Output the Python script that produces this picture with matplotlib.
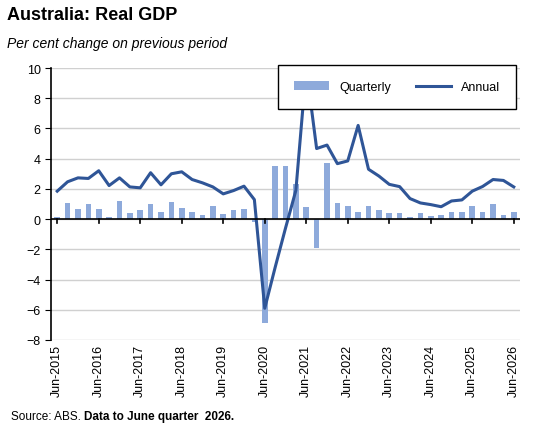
import matplotlib
matplotlib.use('Agg')
import matplotlib.pyplot as plt
import numpy as np

plt.rcParams['font.family'] = ['Liberation Sans', 'DejaVu Sans']

# -- data, Jun-2015 to Jun-2026 quarterly
quarterly = [0.15, 1.05, 0.67, 1.0, 0.67, 0.15, 1.2, 0.4, 0.6, 1.0,
             0.47, 1.13, 0.73, 0.47, 0.27, 0.87, 0.33, 0.6, 0.67, -0.2,
             -6.9, 3.5, 3.5, 2.3, 0.8, -1.9, 3.7, 1.05, 0.9, 0.5,
             0.9, 0.6, 0.4, 0.4, 0.15, 0.4, 0.2, 0.3, 0.45, 0.45,
             0.87, 0.5, 1.0, 0.3, 0.45]
annual = [1.85, 2.47, 2.73, 2.69, 3.2, 2.22, 2.73, 2.13, 2.07, 3.07,
          2.27, 3.0, 3.13, 2.62, 2.4, 2.13, 1.67, 1.89, 2.18, 1.29,
          -5.9, -3.2, -0.6, 1.9, 10.0, 4.67, 4.9, 3.67, 3.85, 6.2,
          3.3, 2.85, 2.3, 2.15, 1.36, 1.07, 0.96, 0.82, 1.2, 1.27,
          1.85, 2.16, 2.62, 2.56, 2.13]
tick_labels = ['Jun-2015', 'Jun-2016', 'Jun-2017', 'Jun-2018', 'Jun-2019',
               'Jun-2020', 'Jun-2021', 'Jun-2022', 'Jun-2023', 'Jun-2024',
               'Jun-2025', 'Jun-2026']

x = np.arange(len(quarterly))

fig = plt.figure(figsize=(5.48, 4.35), dpi=100)
ax = fig.add_axes([51 / 548, 94 / 435, 469 / 548, 272 / 435])

bars = ax.bar(x, quarterly, width=0.55, color='#8eaadb', label='Quarterly', zorder=2)
line, = ax.plot(x, annual, color='#2f5597', linewidth=2.2, label='Annual', zorder=3)

ax.set_xlim(-0.6, len(x) - 0.4)
ax.set_ylim(-8, 10)
ax.set_yticks(range(-8, 11, 2))
ax.tick_params(axis='y', labelsize=9, length=4, direction='out')
ax.yaxis.grid(True, color='#d0d0d0', linewidth=1, zorder=0)

for s in ['top', 'right', 'bottom']:
    ax.spines[s].set_visible(False)
ax.spines['left'].set_linewidth(1.2)
ax.axhline(0, color='black', linewidth=1.2, zorder=4)

ax.set_xticks(x[::4])
ax.set_xticklabels(tick_labels, rotation=90, fontsize=9)
ax.tick_params(axis='x', length=0, pad=3)
for xt in x[::4]:
    ax.plot([xt, xt], [0, -0.25], color='black', linewidth=1.2, zorder=4, clip_on=False)

leg = ax.legend([bars, line], ['Quarterly', 'Annual'], loc='upper right', ncol=2,
                fontsize=9, frameon=True, fancybox=False, framealpha=1,
                edgecolor='black', borderpad=1.3, handlelength=2.8,
                columnspacing=2.0, bbox_to_anchor=(1.005, 1.035))
leg.get_frame().set_linewidth(1)
leg.set_zorder(10)

fig.text(0.012, 0.955, 'Australia: Real GDP', fontsize=13, fontweight='bold')
fig.text(0.012, 0.89, 'Per cent change on previous period', fontsize=10, style='italic')
fig.text(0.02, 0.035, 'Source: ABS. ', fontsize=8.5)
fig.text(0.153, 0.035, 'Data to June quarter  2026.', fontsize=8.5, fontweight='bold')

plt.savefig('out.png')
